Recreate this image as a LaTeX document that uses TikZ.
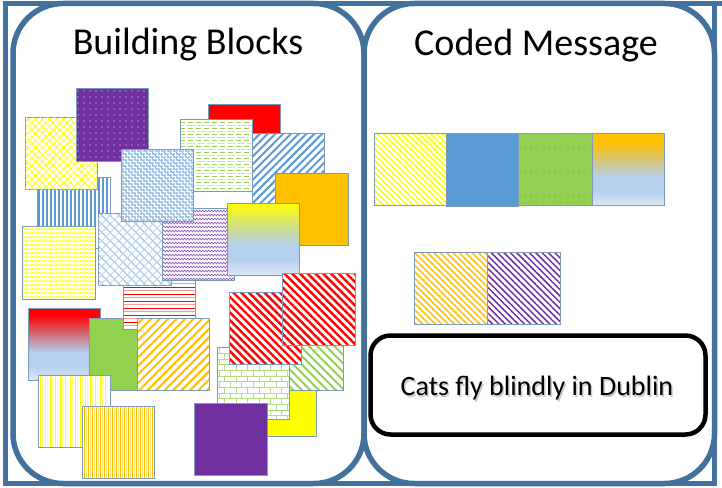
\documentclass[tikz,border=0pt]{standalone}
\usepackage{fontspec}
\setmainfont{Carlito}
\usetikzlibrary{patterns,patterns.meta,decorations.pathmorphing}
\definecolor{frameblue}{HTML}{41719C}
\definecolor{boxedge}{HTML}{7C9ABC}
\definecolor{opurple}{HTML}{7030A0}
\definecolor{oorange}{HTML}{FFC000}
\definecolor{ogreen}{HTML}{92D050}
\definecolor{oblue}{HTML}{5B9BD5}
\definecolor{lblue}{HTML}{B4D0EC}
\definecolor{llblue}{HTML}{DCE8F6}
\definecolor{oyellow}{HTML}{FFFF00}
\definecolor{ored}{HTML}{FF0000}
\definecolor{pinkred}{HTML}{FF9A9A}
\definecolor{ymid}{HTML}{C8DA9C}
\definecolor{rmid}{HTML}{CC7484}
\definecolor{omid}{HTML}{D4C684}
\pgfdeclareverticalshading{ybshade}{100bp}{color(0bp)=(llblue); color(25bp)=(llblue); color(36bp)=(lblue); color(45bp)=(lblue); color(56bp)=(ymid); color(75bp)=(oyellow); color(100bp)=(oyellow)}
\pgfdeclareverticalshading{rbshade}{100bp}{color(0bp)=(llblue); color(25bp)=(llblue); color(35bp)=(lblue); color(44bp)=(lblue); color(56bp)=(rmid); color(70bp)=(ored); color(100bp)=(ored)}
\pgfdeclareverticalshading{obshade}{100bp}{color(0bp)=(llblue); color(25bp)=(llblue); color(35bp)=(lblue); color(44bp)=(lblue); color(55bp)=(omid); color(69bp)=(oorange); color(100bp)=(oorange)}
\tikzset{
  edge/.style={draw=boxedge, line width=0.9pt},
  panel/.style={draw=frameblue, line width=5.5pt, rounded corners=50pt},
  title/.style={font=\fontsize{38}{44}\selectfont, anchor=base, inner sep=0pt},
  zz/.style={line width=0.6pt, decorate, decoration={zigzag, segment length=3pt, amplitude=1pt}}
}
\newcommand{\patbox}[5]{\fill[white] (#2,#3) rectangle (#4,#5); \fill[#1] (#2,#3) rectangle (#4,#5); \draw[edge] (#2,#3) rectangle (#4,#5);}
\newcommand{\custbox}[5]{\fill[white] (#2,#3) rectangle (#4,#5); \begin{scope} \clip (#2,#3) rectangle (#4,#5); #1 \end{scope} \draw[edge] (#2,#3) rectangle (#4,#5);}
\newcommand{\gradbox}[5]{\shade[shading=#1] (#2,#3) rectangle (#4,#5); \draw[edge] (#2,#3) rectangle (#4,#5);}
\begin{document}
\begin{tikzpicture}[x=1pt,y=-1pt]
\useasboundingbox (0,0) rectangle (722,487);
% frame and panels
\draw[frameblue, line width=5.5pt] (5.5,3.5) rectangle (714.5,483.5);
\draw[frameblue, line width=5.5pt] (714.5,3.5) -- (722,3.5);
\draw[panel] (13,3.5) rectangle (364,483.5);
\draw[panel] (364,3.5) rectangle (714.5,483.5);
\node[title] (bbtitle) at (188,55) {Building Blocks};
\node[title] (cmtitle) at (536,56) {Coded Message};
% ---------- building blocks ----------
\gradbox{rbshade}{28}{308}{100}{380}
\patbox{fill=ogreen}{89}{318}{161}{390}
\custbox{\foreach \y in {259,266,...,329} {\draw[ored, line width=0.9pt] (123,\y) -- (195,\y); \draw[pinkred, line width=1.2pt] (123,\y+3.5) -- (195,\y+3.5);}}{123}{257}{195}{329}
\custbox{\foreach \x in {39,43,...,110} {\draw[oblue, line width=1.4pt] (\x,177) -- (\x,248);}}{37}{177}{110}{248}
\patbox{pattern={Lines[angle=45,distance=5pt,line width=0.8pt]},pattern color=oyellow}{25}{117}{97}{189}
\fill[pattern={Lines[angle=-45,distance=5pt,line width=0.8pt]},pattern color=oyellow] (25,117) rectangle (97,189);
\patbox{fill=opurple}{76}{88}{148}{161}
\fill[pattern={Dots[distance=6pt,radius=0.6pt]},pattern color=white!85!opurple] (76,88) rectangle (148,161);
\custbox{\foreach \y in {229,233,...,299} {\draw[zz, oyellow] (20,\y) -- (97,\y);}}{22}{226}{95}{299}
\patbox{fill=ored}{208}{104}{280}{176}
\custbox{\foreach \y in {122,128,...,191} {\draw[ogreen, line width=1pt, dash pattern=on 5pt off 3pt] (180,\y) -- (252,\y); \draw[ogreen!45, line width=1pt, dash pattern=on 8pt off 2pt, dash phase=3pt] (180,\y+3) -- (252,\y+3);}}{180}{119}{252}{191}
\patbox{pattern={Lines[angle=45,distance=5.5pt,line width=2pt]},pattern color=oblue}{252}{133}{324}{205}
\patbox{pattern={Lines[angle=-45,distance=6pt,line width=1pt]},pattern color=oblue!60}{98}{213}{171}{285}
\fill[pattern={Lines[angle=45,distance=6pt,line width=0.9pt]},pattern color=oblue!40] (98,213) rectangle (171,285);
\custbox{\foreach \y in {211,215,...,280} {\draw[zz, opurple!80] (160,\y) -- (236,\y);}}{162}{208}{234}{280}
\patbox{pattern={Dots[distance=3pt,radius=0.8pt]},pattern color=oblue}{121}{149}{193}{221}
\fill[pattern={Lines[angle=-45,distance=4.2pt,line width=0.7pt]},pattern color=oblue!80] (121,149) rectangle (193,221);
\patbox{fill=oorange}{275}{173}{348}{245}
\gradbox{ybshade}{227}{203}{299}{275}
\patbox{pattern={Lines[angle=45,distance=6pt,line width=2pt]},pattern color=oorange}{137}{318}{209}{390}
\custbox{\foreach \x in {40,45,...,110} {\draw[oyellow, line width=1pt] (\x,375) -- (\x,447); \draw[oyellow!45, line width=1pt] (\x+2.5,375) -- (\x+2.5,447);}}{38}{375}{110}{447}
\custbox{\foreach \x in {84,88,...,154} {\draw[oorange, line width=0.8pt] (\x,406) -- (\x,478); \draw[oorange!45, line width=0.8pt] (\x+2,406) -- (\x+2,478);}}{82}{406}{154}{478}
\patbox{fill=oyellow}{244}{364}{316}{436}
\patbox{pattern={Lines[angle=-45,distance=6pt,line width=2pt]},pattern color=ogreen}{271}{318}{343}{390}
\patbox{pattern=bricks,pattern color=ogreen!70}{217}{347}{289}{419}
\patbox{pattern={Lines[angle=-45,distance=5.5pt,line width=2.4pt]},pattern color=ored}{229}{292}{301}{364}
\patbox{pattern={Lines[angle=-45,distance=5.5pt,line width=2.4pt]},pattern color=ored}{282}{273}{355}{345}
\patbox{fill=opurple}{194}{403}{267}{475}
% ---------- coded message ----------
\patbox{pattern={Lines[angle=-45,distance=4.2pt,line width=1.6pt]},pattern color=oyellow}{374}{133}{446}{205}
\patbox{fill=oblue}{446}{133}{518}{206}
\patbox{fill=ogreen}{518}{133}{592}{205}
\fill[pattern={Dots[distance=6pt,radius=0.5pt]},pattern color=white!70!ogreen] (518,133) rectangle (592,205);
\gradbox{obshade}{592}{133}{664}{205}
\patbox{pattern={Lines[angle=-45,distance=4.5pt,line width=1.5pt]},pattern color=oorange}{414}{252}{487}{324}
\patbox{pattern={Lines[angle=-45,distance=4.5pt,line width=1.5pt]},pattern color=opurple}{487}{252}{560}{324}
\node[draw=black, line width=4.5pt, rounded corners=20pt, minimum width=335pt, minimum height=99pt] (msgbox) at (538,385) {};
\node[anchor=base, inner sep=0pt, font=\fontsize{28}{32}\selectfont, text=black!35, opacity=0.6] (msgshadow) at (538.5,397) {Cats fly blindly in Dublin};
\node[anchor=base, inner sep=0pt, font=\fontsize{28}{32}\selectfont] (msg) at (537,395.5) {Cats fly blindly in Dublin};
\end{tikzpicture}
\end{document}
